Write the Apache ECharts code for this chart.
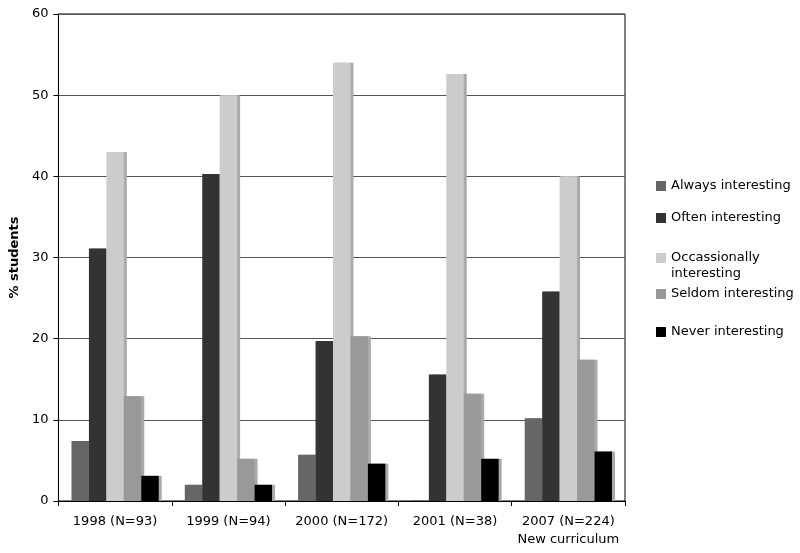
<!DOCTYPE html>
<html><head><meta charset="utf-8">
<script src="https://cdn.jsdelivr.net/npm/echarts@6/dist/echarts.min.js"></script>
<style>html,body{margin:0;padding:0;background:#fff}#c{width:800px;height:553px}</style>
</head><body><div id="c"></div>
<script>
const categories = ["1998 (N=93)", "1999 (N=94)", "2000 (N=172)", "2001 (N=38)", "2007 (N=224)\nNew curriculum"];
const seriesNames = ["Always interesting", "Often interesting", "Occassionally interesting", "Seldom interesting", "Never interesting"];
const always = [7.4, 2.0, 5.7, 0.1, 10.2];
const often = [31.1, 40.3, 19.7, 15.6, 25.8];
const occasionally = [43.0, 50.0, 54.0, 52.6, 40.0];
const seldom = [12.9, 5.2, 20.3, 13.2, 17.4];
const never = [3.1, 2.0, 4.6, 5.2, 6.1];
const yTicks = [0, 10, 20, 30, 40, 50, 60];

const colors = ["#666666", "#333333", "#cccccc", "#999999", "#000000"];
const values = [always, often, occasionally, seldom, never];
const font = "DejaVu Sans";
const legendTops = [173, 205, 245, 281, 319];

const legends = seriesNames.map((n, i) => {
  const two = n === "Occassionally interesting";
  return {
    orient: 'vertical', left: 651, top: legendTops[i],
    itemWidth: 10, itemHeight: two ? 26 : 10,
    icon: two ? 'path://M0,0L10,0L10,10L0,10Z M0,26L0,26Z' : 'rect',
    textStyle: {fontFamily: font, fontSize: 13, color: '#000', lineHeight: 16},
    formatter: nm => nm === "Occassionally interesting" ? "Occassionally\ninteresting" : nm,
    data: [n], selectedMode: false
  };
});

const chart = echarts.init(document.getElementById('c'), null, {renderer: 'canvas'});
chart.setOption({
  animation: false,
  textStyle: {fontFamily: font},
  grid: {left: 57, right: 175, top: 14, bottom: 52, show: true, borderColor: '#000', borderWidth: 1, containLabel: false},
  legend: legends,
  xAxis: {
    type: 'category', data: categories, boundaryGap: true,
    axisLine: {lineStyle: {color: '#000', width: 1}},
    axisTick: {show: true, alignWithLabel: false, length: 5, lineStyle: {color: '#000'}},
    axisLabel: {color: '#000', fontSize: 13, fontFamily: font, margin: 12, lineHeight: 18, interval: 0}
  },
  yAxis: {
    type: 'value', min: 0, max: 60, interval: 10,
    name: '% students', nameLocation: 'middle', nameGap: 31, nameRotate: 90,
    nameTextStyle: {fontFamily: font, fontSize: 13, fontWeight: 'bold', color: '#000'},
    axisLine: {show: true, lineStyle: {color: '#000'}},
    axisTick: {show: true, length: 5, lineStyle: {color: '#000'}},
    axisLabel: {color: '#000', fontSize: 13, fontFamily: font, margin: 10,
      formatter: v => yTicks.includes(v) ? String(v) : ''},
    splitLine: {show: true, lineStyle: {color: '#555', width: 1}}
  },
  series: seriesNames.map((n, i) => ({
    name: n, type: 'bar', data: values[i],
    barGap: '0%', barCategoryGap: '23%',
    itemStyle: {color: colors[i], shadowColor: '#aaaaaa', shadowOffsetX: 3, shadowOffsetY: 0, shadowBlur: 0}
  }))
});
</script></body></html>
